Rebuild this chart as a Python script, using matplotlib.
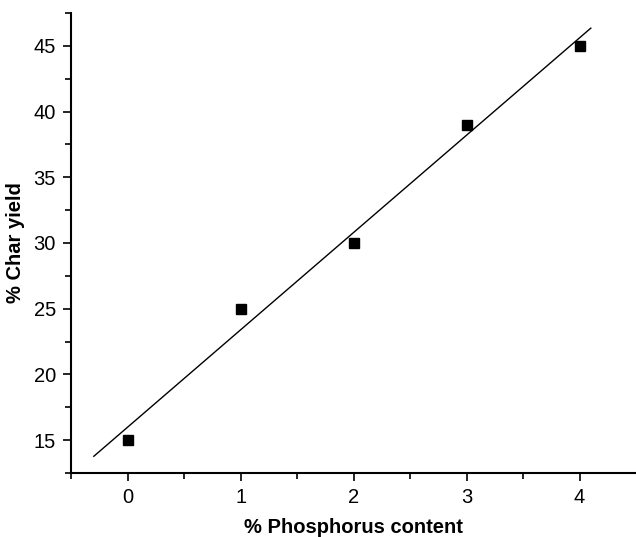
import numpy as np
import matplotlib.pyplot as plt

plt.rcParams['font.family'] = ['Liberation Sans', 'DejaVu Sans']

phosphorus = [0, 1, 2, 3, 4]
char_yield = [15, 25, 30, 39, 45]

# linear fit through the points
slope, intercept = np.polyfit(phosphorus, char_yield, 1)
fit_x = np.array([-0.3, 4.1])

fig = plt.figure(figsize=(6.36, 5.37), dpi=100)
ax = fig.add_axes([0.112, 0.119, 0.888, 0.857])

ax.plot(fit_x, slope * fit_x + intercept, color='black', lw=1.0)
ax.plot(phosphorus, char_yield, 's', color='black', markersize=7)

ax.set_xlim(-0.5, 4.5)
ax.set_ylim(12.5, 47.5)
ax.set_xticks([0, 1, 2, 3, 4])
ax.set_xticks([-0.5, 0.5, 1.5, 2.5, 3.5], minor=True)
ax.set_yticks([15, 20, 25, 30, 35, 40, 45])
ax.set_yticks([12.5, 17.5, 22.5, 27.5, 32.5, 37.5, 42.5, 47.5], minor=True)

ax.spines['top'].set_visible(False)
ax.spines['right'].set_visible(False)
ax.spines['left'].set_linewidth(1.5)
ax.spines['bottom'].set_linewidth(1.5)
ax.tick_params(which='major', direction='out', length=6, width=1.2, labelsize=14.5, pad=5)
ax.tick_params(which='minor', direction='out', length=4, width=1.2)

ax.set_xlabel('% Phosphorus content', fontsize=14.5, fontweight='bold', labelpad=8)
ax.set_ylabel('% Char yield', fontsize=14.5, fontweight='bold', labelpad=6)

fig.savefig('out.png', dpi=100)
